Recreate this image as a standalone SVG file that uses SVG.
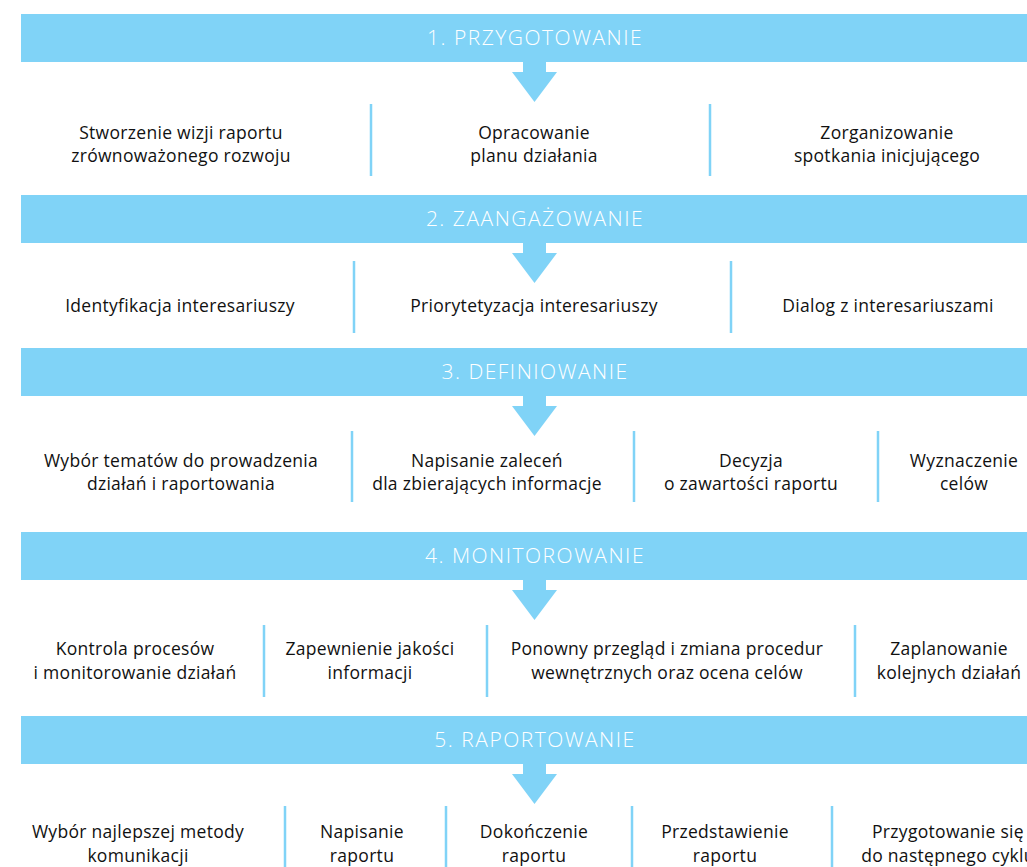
<svg xmlns="http://www.w3.org/2000/svg" width="1027" height="867" viewBox="0 0 1027 867">
<style>
.band{fill:#80d3f7}
.arr{fill:#80d3f7}
.div{stroke:#80d3f7;stroke-width:2.5;fill:none}
.title{font-family:"Open Sans","Noto Sans",sans-serif;font-weight:300;font-size:21px;fill:#ffffff;text-anchor:middle;letter-spacing:1.5px}
.t{font-family:"Open Sans","Noto Sans",sans-serif;font-size:17.5px;fill:#111111;text-anchor:middle;letter-spacing:0.3px}
</style>
<rect width="1027" height="867" fill="#ffffff"/>
<g id="stage1">
<rect class="band" x="21" y="14" width="1006" height="48"/>
<text class="title" x="535" y="45">1. PRZYGOTOWANIE</text>
</g>
<g id="stage1-tasks">
<g id="s1a"><text class="t" x="181" y="139">Stworzenie wizji raportu</text><text class="t" x="181" y="162">zrównoważonego rozwoju</text></g>
<g id="s1b"><text class="t" x="534" y="139">Opracowanie</text><text class="t" x="534" y="162">planu działania</text></g>
<g id="s1c"><text class="t" x="887" y="139">Zorganizowanie</text><text class="t" x="887" y="162">spotkania inicjującego</text></g>
</g>
<g id="stage2">
<rect class="band" x="21" y="195" width="1006" height="48"/>
<text class="title" x="535" y="226">2. ZAANGAŻOWANIE</text>
</g>
<g id="stage2-tasks">
<g id="s2a"><text class="t" x="180" y="312">Identyfikacja interesariuszy</text></g>
<g id="s2b"><text class="t" x="534" y="312">Priorytetyzacja interesariuszy</text></g>
<g id="s2c"><text class="t" x="888" y="312">Dialog z interesariuszami</text></g>
</g>
<g id="stage3">
<rect class="band" x="21" y="348" width="1006" height="48"/>
<text class="title" x="535" y="379">3. DEFINIOWANIE</text>
</g>
<g id="stage3-tasks">
<g id="s3a"><text class="t" x="181" y="467">Wybór tematów do prowadzenia</text><text class="t" x="181" y="490">działań i raportowania</text></g>
<g id="s3b"><text class="t" x="487" y="467">Napisanie zaleceń</text><text class="t" x="487" y="490">dla zbierających informacje</text></g>
<g id="s3c"><text class="t" x="751" y="467">Decyzja</text><text class="t" x="751" y="490">o zawartości raportu</text></g>
<g id="s3d"><text class="t" x="964" y="467">Wyznaczenie</text><text class="t" x="964" y="490">celów</text></g>
</g>
<g id="stage4">
<rect class="band" x="21" y="532" width="1006" height="48"/>
<text class="title" x="535" y="563">4. MONITOROWANIE</text>
</g>
<g id="stage4-tasks">
<g id="s4a"><text class="t" x="135" y="655">Kontrola procesów</text><text class="t" x="135" y="679">i monitorowanie działań</text></g>
<g id="s4b"><text class="t" x="370" y="655">Zapewnienie jakości</text><text class="t" x="370" y="679">informacji</text></g>
<g id="s4c"><text class="t" x="667" y="655">Ponowny przegląd i zmiana procedur</text><text class="t" x="667" y="679">wewnętrznych oraz ocena celów</text></g>
<g id="s4d"><text class="t" x="949" y="655">Zaplanowanie</text><text class="t" x="949" y="679">kolejnych działań</text></g>
</g>
<g id="stage5">
<rect class="band" x="21" y="716" width="1006" height="48"/>
<text class="title" x="535" y="747">5. RAPORTOWANIE</text>
</g>
<g id="stage5-tasks">
<g id="s5a"><text class="t" x="138" y="838">Wybór najlepszej metody</text><text class="t" x="138" y="862">komunikacji</text></g>
<g id="s5b"><text class="t" x="362" y="838">Napisanie</text><text class="t" x="362" y="862">raportu</text></g>
<g id="s5c"><text class="t" x="534" y="838">Dokończenie</text><text class="t" x="534" y="862">raportu</text></g>
<g id="s5d"><text class="t" x="725" y="838">Przedstawienie</text><text class="t" x="725" y="862">raportu</text></g>
<g id="s5e"><text class="t" x="948" y="838">Przygotowanie się</text><text class="t" x="948" y="862">do następnego cyklu</text></g>
</g>
<g id="connectors">
<polygon class="arr" points="523,62 546,62 546,72 557,72 534.5,102 512,72 523,72"/>
<polygon class="arr" points="523,243 546,243 546,253 557,253 534.5,283 512,253 523,253"/>
<polygon class="arr" points="523,396 546,396 546,406 557,406 534.5,436 512,406 523,406"/>
<polygon class="arr" points="523,580 546,580 546,590 557,590 534.5,620 512,590 523,590"/>
<polygon class="arr" points="523,764 546,764 546,774 557,774 534.5,804 512,774 523,774"/>
<path class="div" d="M371,104V176M710,104V176"/>
<path class="div" d="M354,261V333M731,261V333"/>
<path class="div" d="M352,431V502M634,431V502M878,431V502"/>
<path class="div" d="M264,625V697M487,625V697M855,625V697"/>
<path class="div" d="M285,806V870M446,806V870M632,806V870M832,806V870"/>
</g>
</svg>
